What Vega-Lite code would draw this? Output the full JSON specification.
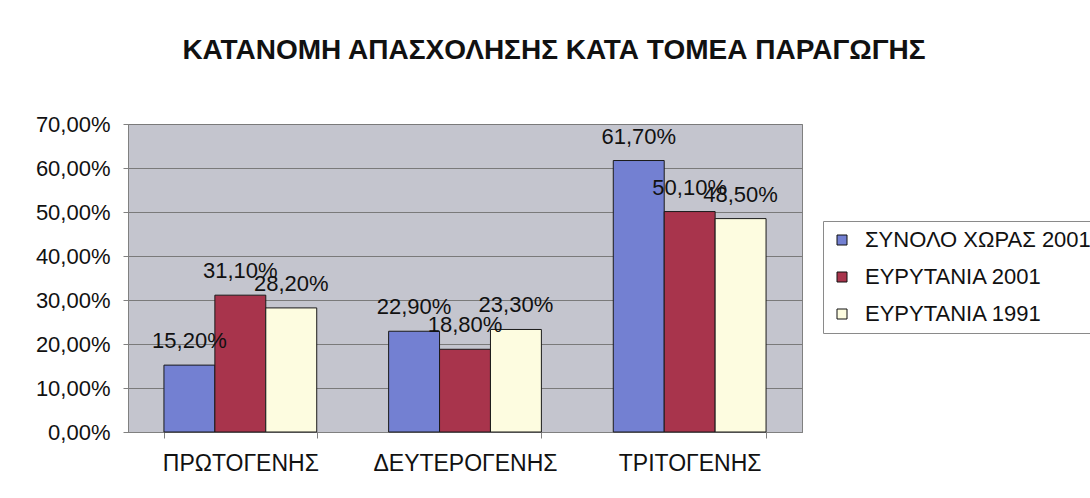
{
  "$schema": "https://vega.github.io/schema/vega-lite/v6.json",
  "width": 674,
  "height": 308,
  "autosize": {"type": "none"},
  "padding": {"left": 128, "top": 124, "right": 288, "bottom": 66},
  "background": "#ffffff",
  "title": {
    "text": "ΚΑΤΑΝΟΜΗ ΑΠΑΣΧΟΛΗΣΗΣ ΚΑΤΑ ΤΟΜΕΑ ΠΑΡΑΓΩΓΗΣ",
    "anchor": "middle",
    "dx": 89,
    "offset": 48,
    "font": "Liberation Sans",
    "fontSize": 28,
    "fontWeight": "bold",
    "color": "#111111"
  },
  "data": {
    "values": [
      {"sector": "ΠΡΩΤΟΓΕΝΗΣ", "series": "ΣΥΝΟΛΟ ΧΩΡΑΣ 2001", "value": 0.152},
      {"sector": "ΠΡΩΤΟΓΕΝΗΣ", "series": "ΕΥΡΥΤΑΝΙΑ 2001", "value": 0.311},
      {"sector": "ΠΡΩΤΟΓΕΝΗΣ", "series": "ΕΥΡΥΤΑΝΙΑ 1991", "value": 0.282},
      {"sector": "ΔΕΥΤΕΡΟΓΕΝΗΣ", "series": "ΣΥΝΟΛΟ ΧΩΡΑΣ 2001", "value": 0.229},
      {"sector": "ΔΕΥΤΕΡΟΓΕΝΗΣ", "series": "ΕΥΡΥΤΑΝΙΑ 2001", "value": 0.188},
      {"sector": "ΔΕΥΤΕΡΟΓΕΝΗΣ", "series": "ΕΥΡΥΤΑΝΙΑ 1991", "value": 0.233},
      {"sector": "ΤΡΙΤΟΓΕΝΗΣ", "series": "ΣΥΝΟΛΟ ΧΩΡΑΣ 2001", "value": 0.617},
      {"sector": "ΤΡΙΤΟΓΕΝΗΣ", "series": "ΕΥΡΥΤΑΝΙΑ 2001", "value": 0.501},
      {"sector": "ΤΡΙΤΟΓΕΝΗΣ", "series": "ΕΥΡΥΤΑΝΙΑ 1991", "value": 0.485}
    ]
  },
  "encoding": {
    "x": {
      "field": "sector",
      "type": "nominal",
      "sort": ["ΠΡΩΤΟΓΕΝΗΣ", "ΔΕΥΤΕΡΟΓΕΝΗΣ", "ΤΡΙΤΟΓΕΝΗΣ"],
      "scale": {"paddingInner": 0.32, "paddingOuter": 0.16},
      "axis": {
        "title": null,
        "labelAngle": 0,
        "tickBand": "extent",
        "tickSize": 6,
        "tickColor": "#808080",
        "domainColor": "#808080",
        "labelPadding": 14,
        "labelFont": "Liberation Sans",
        "labelFontSize": 23,
        "labelColor": "#111111",
        "labelLimit": 400,
        "grid": false
      }
    },
    "xOffset": {
      "field": "series",
      "type": "nominal",
      "sort": ["ΣΥΝΟΛΟ ΧΩΡΑΣ 2001", "ΕΥΡΥΤΑΝΙΑ 2001", "ΕΥΡΥΤΑΝΙΑ 1991"],
      "scale": {"paddingInner": 0, "paddingOuter": 0}
    },
    "y": {
      "field": "value",
      "type": "quantitative",
      "scale": {"domain": [0, 0.7], "nice": false},
      "axis": {
        "title": null,
        "format": ".2%",
        "values": [0, 0.1, 0.2, 0.3, 0.4, 0.5, 0.6, 0.7],
        "tickSize": 5,
        "tickColor": "#808080",
        "domainColor": "#808080",
        "gridColor": "#7a7a7a",
        "gridWidth": 1,
        "labelPadding": 13,
        "labelFont": "Liberation Sans",
        "labelFontSize": 22,
        "labelColor": "#111111"
      }
    }
  },
  "layer": [
    {
      "mark": {"type": "bar", "stroke": "#1a1a1a", "strokeWidth": 1},
      "encoding": {
        "color": {
          "field": "series",
          "type": "nominal",
          "sort": ["ΣΥΝΟΛΟ ΧΩΡΑΣ 2001", "ΕΥΡΥΤΑΝΙΑ 2001", "ΕΥΡΥΤΑΝΙΑ 1991"],
          "scale": {
            "domain": ["ΣΥΝΟΛΟ ΧΩΡΑΣ 2001", "ΕΥΡΥΤΑΝΙΑ 2001", "ΕΥΡΥΤΑΝΙΑ 1991"],
            "range": ["#7380d2", "#a8344c", "#fdfce0"]
          },
          "legend": {
            "title": null,
            "orient": "none",
            "legendX": 695,
            "legendY": 97,
            "padding": 8,
            "strokeColor": "#8a8a8a",
            "fillColor": "#ffffff",
            "symbolType": "square",
            "symbolSize": 100,
            "symbolStrokeColor": "#111111",
            "symbolStrokeWidth": 1,
            "symbolOpacity": 1,
            "labelFont": "Liberation Sans",
            "labelFontSize": 22,
            "labelColor": "#111111",
            "labelOffset": 12,
            "labelLimit": 400,
            "rowPadding": 15
          }
        }
      }
    },
    {
      "mark": {
        "type": "text",
        "baseline": "alphabetic",
        "align": "center",
        "dy": -17,
        "font": "Liberation Sans",
        "fontSize": 22,
        "color": "#111111"
      },
      "encoding": {
        "text": {"field": "value", "type": "quantitative", "format": ".2%"}
      }
    }
  ],
  "config": {
    "locale": {
      "number": {
        "decimal": ",",
        "thousands": ".",
        "grouping": [3],
        "currency": ["", " €"]
      }
    },
    "view": {"fill": "#c4c5ce", "stroke": "#808080", "strokeWidth": 1}
  }
}
